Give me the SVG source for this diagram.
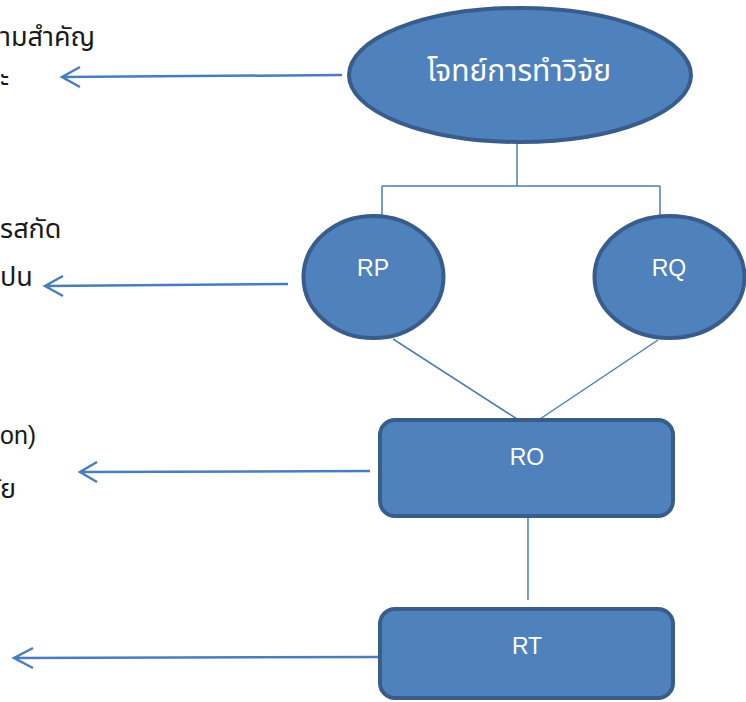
<svg xmlns="http://www.w3.org/2000/svg" width="746" height="702" viewBox="0 0 746 702">
<style>
.node{fill:#4f81bd;stroke:#385d8a;stroke-width:4}
.lbl{fill:#ffffff;font-family:"Liberation Sans",Arial,sans-serif;font-size:23px;text-anchor:middle}
.th{font-family:"Noto Sans Thai","Noto Sans","DejaVu Sans",sans-serif}
.side{fill:#1a1a1a;font-size:27px}
.link{stroke:#4a7ebb;stroke-width:1.5;fill:none}
.arr{stroke:#4a7ebb;stroke-width:2.5;fill:none}
</style>
<rect width="746" height="702" fill="#ffffff"/>
<g id="side-texts">
<text class="th side" x="0" y="46">ามสำคัญ</text>
<text class="th side" x="0" y="87">ะ</text>
<text class="th side" x="0" y="238">รสกัด</text>
<text class="th side" x="0" y="286">ปน</text>
<text class="side" x="0" y="444" style="font-family:'Liberation Sans',Arial,sans-serif;font-size:25px">on)</text>
<text class="th side" x="0" y="498">ัย</text>
</g>
<g id="connectors">
<path class="link" d="M517,142 V186 M382,186 H660 M382,186 V216 M660,186 V216"/>
<path class="link" d="M393,339 L517,419 M658,340 L540,419"/>
<path class="link" d="M528,517 V600"/>
<path class="arr" d="M342,75 L62,77 M80,67 L62,77 L80,87"/>
<path class="arr" d="M288,284 L45,286 M63,276 L45,286 L63,296"/>
<path class="arr" d="M370,471 L80,472 M97,462 L80,472 L97,482"/>
<path class="arr" d="M379,657 L14,658 M33,648 L14,658 L33,668"/>
</g>
<g id="n-title">
<ellipse class="node" cx="520" cy="75" rx="171" ry="67"/>
<text class="lbl th" x="519" y="81" style="font-size:30px">โจทย์การทำวิจัย</text>
</g>
<g id="n-rp">
<ellipse class="node" cx="373.5" cy="277" rx="70" ry="61"/>
<text class="lbl" x="373" y="276">RP</text>
</g>
<g id="n-rq">
<ellipse class="node" cx="669.5" cy="277" rx="75" ry="61"/>
<text class="lbl" x="669" y="276">RQ</text>
</g>
<g id="n-ro">
<rect class="node" x="380" y="420" width="293" height="96" rx="15"/>
<text class="lbl" x="527" y="465">RO</text>
</g>
<g id="n-rt">
<rect class="node" x="380" y="609" width="293" height="89" rx="15"/>
<text class="lbl" x="527" y="654">RT</text>
</g>
</svg>
